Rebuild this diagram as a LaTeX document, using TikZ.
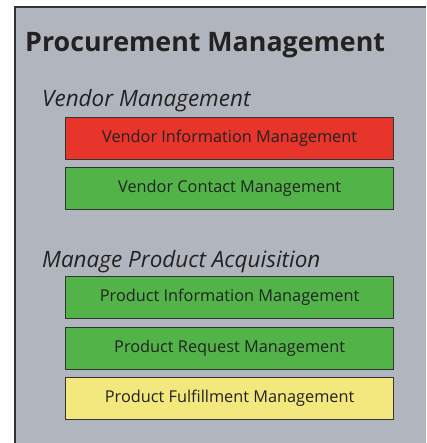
\documentclass[tikz,border=0pt]{standalone}
\usepackage{fontspec}
\setmainfont{Open Sans}
\definecolor{bg}{HTML}{B1B6BE}
\definecolor{fr}{HTML}{333333}
\definecolor{redf}{HTML}{E8352C}
\definecolor{greenf}{HTML}{52B448}
\definecolor{yellowf}{HTML}{F2E87E}
\definecolor{txt}{HTML}{222222}
\tikzset{
  fn/.style={draw=fr, line width=1.3pt, minimum width=328pt, minimum height=42pt, inner sep=0pt,
    font=\fontsize{16.3}{19}\selectfont, text=txt, anchor=north west},
  grp/.style={anchor=base west, inner sep=0pt, font=\fontsize{22.5}{26}\selectfont\itshape, text=txt},
}
\begin{document}
\begin{tikzpicture}[x=1pt,y=-1pt]
\useasboundingbox (0,0) rectangle (426,443);
\fill[bg] (15,7) rectangle (426,443);
\draw[fr, line width=1.6pt] (15,443) -- (15,7) -- (426,7);
\node[anchor=base west, inner sep=0pt, font=\fontsize{26.8}{30}\selectfont\bfseries, text=txt] (title) at (25,52) {Procurement Management};
\node[grp] (g1) at (42,107) {Vendor Management};
\node[fn, fill=redf] (b1) at (65,117) {Vendor Information Management};
\node[fn, fill=greenf] (b2) at (65,167) {Vendor Contact Management};
\node[grp] (g2) at (42,267) {Manage Product Acquisition};
\node[fn, fill=greenf] (b3) at (65,276) {Product Information Management};
\node[fn, fill=greenf] (b4) at (65,327) {Product Request Management};
\node[fn, fill=yellowf] (b5) at (65,377) {Product Fulfillment Management};
\end{tikzpicture}
\end{document}
